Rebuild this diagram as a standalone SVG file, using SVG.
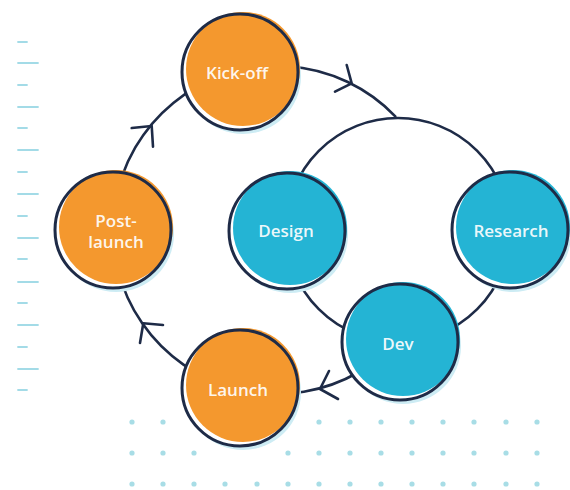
<svg xmlns="http://www.w3.org/2000/svg" width="570" height="490" viewBox="0 0 570 490">
<defs>
<style>
.line{fill:none;stroke:#1e2b47;stroke-width:2.6;stroke-linecap:round;stroke-linejoin:round}
.ring{fill:none;stroke:#1e2b47;stroke-width:3}
.shadow{fill:#cdecf4}
.bg{fill:#ffffff}
.orange{fill:#f4982e}
.blue{fill:#24b4d4}
.lbl{font-family:"Open Sans","Liberation Sans",sans-serif;font-weight:600;font-size:17px;fill:#ffffff;fill-opacity:0.93;text-anchor:middle;dominant-baseline:central}
.dash{stroke:#a3dbe7;stroke-width:1.8;stroke-linecap:round}
.dot{fill:#a8dde6}
</style>
</defs>
<rect width="570" height="490" fill="#ffffff"/>
<g id="dashes">
<line class="dash" x1="18" y1="42" x2="27" y2="42"/>
<line class="dash" x1="18" y1="63" x2="38" y2="63"/>
<line class="dash" x1="18" y1="85" x2="27" y2="85"/>
<line class="dash" x1="18" y1="107" x2="38" y2="107"/>
<line class="dash" x1="18" y1="128" x2="27" y2="128"/>
<line class="dash" x1="18" y1="150" x2="38" y2="150"/>
<line class="dash" x1="18" y1="172" x2="27" y2="172"/>
<line class="dash" x1="18" y1="194" x2="38" y2="194"/>
<line class="dash" x1="18" y1="216" x2="27" y2="216"/>
<line class="dash" x1="18" y1="238" x2="38" y2="238"/>
<line class="dash" x1="18" y1="259" x2="27" y2="259"/>
<line class="dash" x1="18" y1="282" x2="38" y2="282"/>
<line class="dash" x1="18" y1="303" x2="27" y2="303"/>
<line class="dash" x1="18" y1="325" x2="38" y2="325"/>
<line class="dash" x1="18" y1="347" x2="27" y2="347"/>
<line class="dash" x1="18" y1="369" x2="38" y2="369"/>
<line class="dash" x1="18" y1="390" x2="27" y2="390"/>
</g>
<g id="dots">
<circle class="dot" cx="132" cy="422" r="2.6"/><circle class="dot" cx="163" cy="422" r="2.6"/>
<circle class="dot" cx="319" cy="422" r="2.6"/><circle class="dot" cx="350" cy="422" r="2.6"/><circle class="dot" cx="381" cy="422" r="2.6"/><circle class="dot" cx="412" cy="422" r="2.6"/><circle class="dot" cx="443" cy="422" r="2.6"/><circle class="dot" cx="474" cy="422" r="2.6"/><circle class="dot" cx="506" cy="422" r="2.6"/><circle class="dot" cx="537" cy="422" r="2.6"/>
<circle class="dot" cx="132" cy="453" r="2.6"/><circle class="dot" cx="163" cy="453" r="2.6"/><circle class="dot" cx="194" cy="453" r="2.6"/>
<circle class="dot" cx="288" cy="453" r="2.6"/><circle class="dot" cx="319" cy="453" r="2.6"/><circle class="dot" cx="350" cy="453" r="2.6"/><circle class="dot" cx="381" cy="453" r="2.6"/><circle class="dot" cx="412" cy="453" r="2.6"/><circle class="dot" cx="443" cy="453" r="2.6"/><circle class="dot" cx="474" cy="453" r="2.6"/><circle class="dot" cx="506" cy="453" r="2.6"/><circle class="dot" cx="537" cy="453" r="2.6"/>
<circle class="dot" cx="132" cy="484" r="2.6"/><circle class="dot" cx="163" cy="484" r="2.6"/><circle class="dot" cx="194" cy="484" r="2.6"/><circle class="dot" cx="225" cy="484" r="2.6"/><circle class="dot" cx="257" cy="484" r="2.6"/><circle class="dot" cx="288" cy="484" r="2.6"/><circle class="dot" cx="319" cy="484" r="2.6"/><circle class="dot" cx="350" cy="484" r="2.6"/><circle class="dot" cx="381" cy="484" r="2.6"/><circle class="dot" cx="412" cy="484" r="2.6"/><circle class="dot" cx="443" cy="484" r="2.6"/><circle class="dot" cx="474" cy="484" r="2.6"/><circle class="dot" cx="506" cy="484" r="2.6"/><circle class="dot" cx="537" cy="484" r="2.6"/>
</g>
<g id="connectors">
<circle class="line" cx="398" cy="230" r="112"/>
<path class="line" d="M395.3,116.3 A164,164 0 1 0 359,372"/>
<path class="line" d="M346.7,65 L351.7,83.3 L335,91.7"/>
<path class="line" d="M329,371 L320,389 L338,399"/>
<path class="line" d="M163,325 L143.3,323.3 L140,343"/>
<path class="line" d="M131.7,128 L151.7,126 L153,146.7"/>
</g>
<g id="kickoff">
<circle class="shadow" cx="243" cy="76" r="58"/>
<circle class="bg" cx="240" cy="72" r="58"/>
<circle class="orange" cx="243" cy="69" r="57"/>
<circle class="ring" cx="240" cy="72" r="58"/>
<text class="lbl" x="237" y="72">Kick-off</text>
</g>
<g id="postlaunch">
<circle class="shadow" cx="116" cy="234" r="58"/>
<circle class="bg" cx="113" cy="230" r="58"/>
<circle class="orange" cx="116" cy="227" r="57"/>
<circle class="ring" cx="113" cy="230" r="58"/>
<text class="lbl" x="116" y="220">Post-</text>
<text class="lbl" x="116" y="241">launch</text>
</g>
<g id="launch">
<circle class="shadow" cx="243" cy="392" r="58"/>
<circle class="bg" cx="240" cy="388" r="58"/>
<circle class="orange" cx="243" cy="385" r="57"/>
<circle class="ring" cx="240" cy="388" r="58"/>
<text class="lbl" x="238" y="389">Launch</text>
</g>
<g id="design">
<circle class="shadow" cx="290" cy="235" r="58"/>
<circle class="bg" cx="287" cy="231" r="58"/>
<circle class="blue" cx="290" cy="228" r="57"/>
<circle class="ring" cx="287" cy="231" r="58"/>
<text class="lbl" x="286" y="230">Design</text>
</g>
<g id="research">
<circle class="shadow" cx="513" cy="234" r="58"/>
<circle class="bg" cx="510" cy="230" r="58"/>
<circle class="blue" cx="513" cy="227" r="57"/>
<circle class="ring" cx="510" cy="230" r="58"/>
<text class="lbl" x="511" y="230">Research</text>
</g>
<g id="dev">
<circle class="shadow" cx="403" cy="346" r="58"/>
<circle class="bg" cx="400" cy="342" r="58"/>
<circle class="blue" cx="403" cy="339" r="57"/>
<circle class="ring" cx="400" cy="342" r="58"/>
<text class="lbl" x="398" y="343">Dev</text>
</g>
</svg>
